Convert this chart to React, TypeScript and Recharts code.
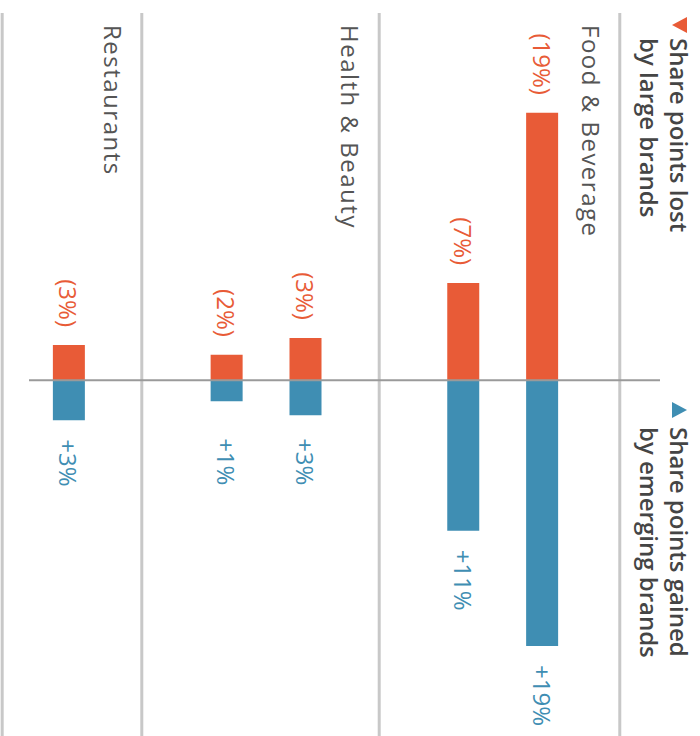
import { BarChart, Bar, XAxis, YAxis, ReferenceLine, LabelList } from 'recharts';

// rows are drawn top to bottom (before the page rotation)
const rowPos = [1.5, 2.5, 4.5, 5.5, 7.5];
const lostShare = [19, 6.9, 3.0, 1.8, 2.5];
const gainedShare = [18.9, 10.7, 2.5, 1.5, 2.85];
const lostText = ['(19%)', '(7%)', '(3%)', '(2%)', '(3%)'];
const gainedText = ['+19%', '+11%', '+3%', '+1%', '+3%'];

const groups = ['Food & Beverage', 'Health & Beauty', 'Restaurants', ''];
const dividerAt = [0.51, 3.56, 6.57, 8.34];

const ORANGE = '#E85B37';
const BLUE = '#3F8EB3';
const FONT = '"Open Sans", "Noto Sans", sans-serif';

const rows = rowPos.map((pos, i) => ({
  pos,
  lost: -lostShare[i],
  gained: gainedShare[i],
  lostText: lostText[i],
  gainedText: gainedText[i],
}));

const renderLost = (props: any) => {
  const { x, y, width, height, value } = props;
  const left = Math.min(x, x + width);
  return (
    <text x={left - 18} y={y + height / 2} textAnchor="end" dominantBaseline="central"
      fill={ORANGE} fontSize={24} fontFamily={FONT}>
      {value}
    </text>
  );
};

const renderGained = (props: any) => {
  const { x, y, width, height, value } = props;
  const left = Math.min(x, x + width);
  const w = Math.abs(width);
  return (
    <text x={left + Math.max(w + 19, 58)} y={y + height / 2} textAnchor="start" dominantBaseline="central"
      fill={BLUE} fontSize={24} fontFamily={FONT}>
      {value}
    </text>
  );
};

const groupLabel = (name: string) => (props: any) => {
  const vb = props.viewBox || {};
  if (!name) return null;
  return (
    <text x={(vb.x ?? 0) + 12} y={(vb.y ?? 0) + 38} fill="#555" fontSize={24} letterSpacing={1.5} fontFamily={FONT}>
      {name}
    </text>
  );
};

const legendText = {
  position: 'absolute' as const,
  top: 6,
  color: '#454545',
  fontSize: 24,
  fontWeight: 600,
  lineHeight: '30px',
  whiteSpace: 'nowrap' as const,
};

export default function App() {
  return (
    <div style={{ position: 'absolute', left: 0, top: 0, width: 700, height: 736, overflow: 'hidden', background: '#fff' }}>
      <div
        style={{
          position: 'absolute',
          left: 0,
          top: 0,
          width: 736,
          height: 700,
          transformOrigin: '0 0',
          transform: 'translateX(700px) rotate(90deg)',
          fontFamily: FONT,
        }}
      >
        <BarChart
          width={736}
          height={700}
          data={rows}
          layout="vertical"
          stackOffset="sign"
          margin={{ top: 40, right: 0, bottom: 29, left: 13 }}
        >
          <XAxis type="number" hide domain={[-26.1, 25.3]} allowDataOverflow />
          <YAxis type="number" dataKey="pos" hide domain={[0, 8]} />
          {dividerAt.map((d, i) => (
            <ReferenceLine key={d} y={d} stroke="#c8c8c8" strokeWidth={3} ifOverflow="visible" label={groupLabel(groups[i])} />
          ))}
          <ReferenceLine x={0} stroke="#9a9a9a" strokeWidth={2} />
          <Bar dataKey="lost" stackId="s" fill={ORANGE} barSize={32} isAnimationActive={false}>
            <LabelList dataKey="lostText" content={renderLost} />
          </Bar>
          <Bar dataKey="gained" stackId="s" fill={BLUE} barSize={32} isAnimationActive={false}>
            <LabelList dataKey="gainedText" content={renderGained} />
          </Bar>
        </BarChart>

        <svg width={736} height={40} style={{ position: 'absolute', left: 0, top: 0 }}>
          <polygon points="17,13 33,13 25,28" fill={ORANGE} />
          <polygon points="402,28 418,28 410,13" fill={BLUE} />
        </svg>
        <div style={{ ...legendText, left: 38 }}>
          Share points lost
          <br />
          by large brands
        </div>
        <div style={{ ...legendText, left: 427 }}>
          Share points gained
          <br />
          by emerging brands
        </div>
      </div>
    </div>
  );
}
